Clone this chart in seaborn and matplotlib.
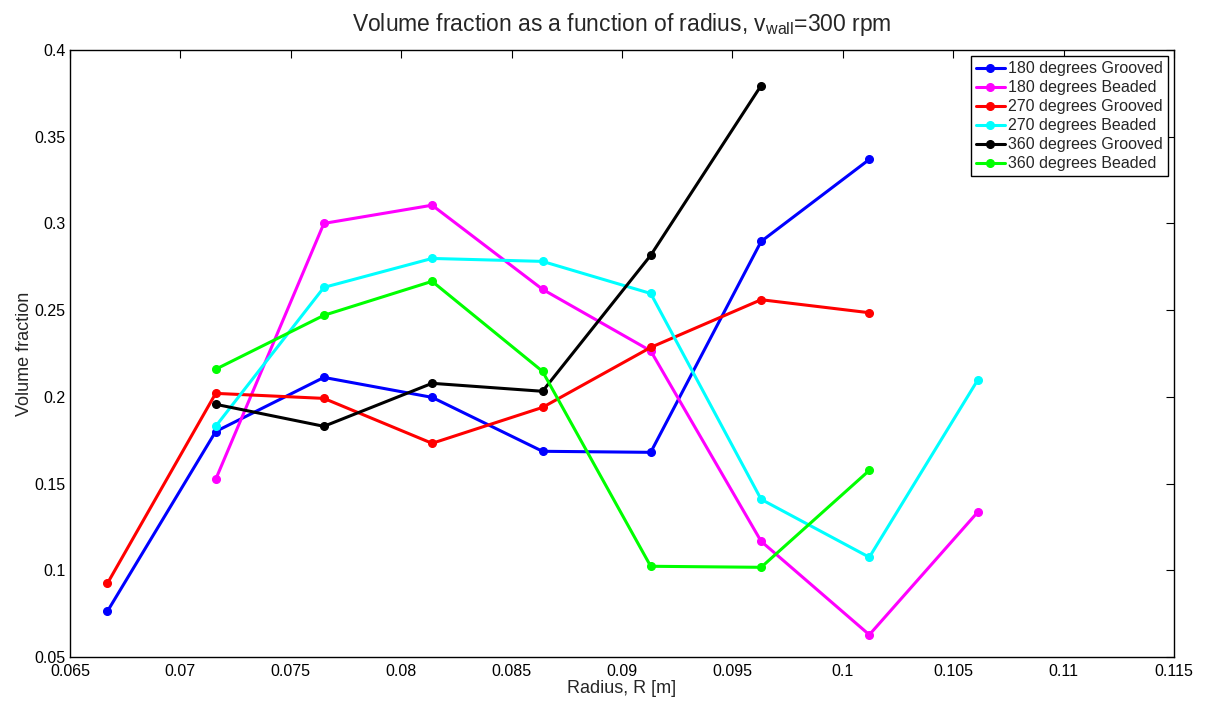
import matplotlib
matplotlib.use("Agg")
import matplotlib.pyplot as plt
import seaborn as sns
import pandas as pd

radius = [0.0667, 0.0716, 0.0765, 0.0814, 0.0864, 0.0913, 0.0963, 0.1012, 0.1061]

g180 = [0.0764, 0.1800, 0.2112, 0.1997, 0.1686, 0.1680, 0.2896, 0.3369]
b180 = [0.1524, 0.3000, 0.3105, 0.2620, 0.2265, 0.1167, 0.0628, 0.1334]
g270 = [0.0925, 0.2020, 0.1991, 0.1732, 0.1939, 0.2285, 0.2560, 0.2485]
b270 = [0.1830, 0.2631, 0.2798, 0.2781, 0.2596, 0.1409, 0.1075, 0.2095]
g360 = [0.1957, 0.1830, 0.2078, 0.2032, 0.2816, 0.3795]
b360 = [0.2159, 0.2470, 0.2666, 0.2147, 0.1023, 0.1017, 0.1576]

series = [
    ("180 degrees Grooved", radius[0:8], g180, "#0000ff"),
    ("180 degrees Beaded", radius[1:9], b180, "#ff00ff"),
    ("270 degrees Grooved", radius[0:8], g270, "#ff0000"),
    ("270 degrees Beaded", radius[1:9], b270, "#00ffff"),
    ("360 degrees Grooved", radius[1:7], g360, "#000000"),
    ("360 degrees Beaded", radius[1:8], b360, "#00ff00"),
]

x_ticks = [0.065, 0.07, 0.075, 0.08, 0.085, 0.09, 0.095, 0.1, 0.105, 0.11, 0.115]
x_labels = ["0.065", "0.07", "0.075", "0.08", "0.085", "0.09", "0.095", "0.1", "0.105", "0.11", "0.115"]
y_ticks = [0.05, 0.1, 0.15, 0.2, 0.25, 0.3, 0.35, 0.4]
y_labels = ["0.05", "0.1", "0.15", "0.2", "0.25", "0.3", "0.35", "0.4"]

sns.set_style("white")
plt.rcParams["font.family"] = ["Liberation Sans", "DejaVu Sans"]
plt.rcParams["mathtext.fontset"] = "custom"
plt.rcParams["mathtext.rm"] = "Liberation Sans"
plt.rcParams["mathtext.it"] = "Liberation Sans"

fig = plt.figure(figsize=(12.08, 7.04), dpi=100)
ax = fig.add_axes([0.0579, 0.0668, 0.9140, 0.8622])

for name, xs, ys, col in series:
    df = pd.DataFrame({"x": xs, "y": ys})
    sns.lineplot(data=df, x="x", y="y", ax=ax, color=col, marker="o",
                 markersize=5.5, markeredgecolor=col, markeredgewidth=1.0,
                 linewidth=2.2, sort=False, label=name)

ax.set_xlim(0.065, 0.115)
ax.set_ylim(0.05, 0.4)
ax.set_xticks(x_ticks)
ax.set_xticklabels(x_labels)
ax.set_yticks(y_ticks)
ax.set_yticklabels(y_labels)
ax.tick_params(direction="in", top=True, right=True, length=6, width=0.8,
               labelsize=11.5, colors="black", pad=3)
ax.tick_params(axis="x", pad=5)
for s in ax.spines.values():
    s.set_visible(True)
    s.set_color("black")
    s.set_linewidth(1.0)

ax.set_xlabel("Radius, R [m]", fontsize=13, labelpad=1)
ax.set_ylabel("Volume fraction", fontsize=13, labelpad=1)
ax.set_title(r"Volume fraction as a function of radius, v$_{\mathrm{wall}}$=300 rpm",
             fontsize=16.5, pad=14)

leg = ax.legend(loc="upper right", fontsize=11.5, frameon=True, fancybox=False,
                framealpha=1, edgecolor="black", handlelength=1.8,
                handletextpad=0.2, borderpad=0.3, labelspacing=0.25,
                borderaxespad=0.4)
leg.get_frame().set_linewidth(1.0)

fig.savefig("out.png", dpi=100)
